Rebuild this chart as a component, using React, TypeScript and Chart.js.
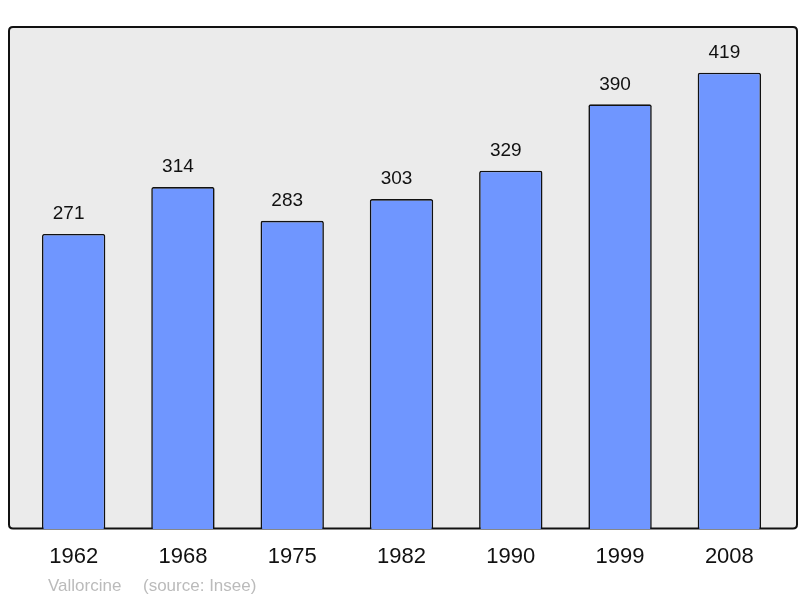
import React, { useEffect, useRef } from "react";
import { Chart, registerables } from "chart.js";

Chart.register(...registerables);

const years = ["1962", "1968", "1975", "1982", "1990", "1999", "2008"];
const population = [271, 314, 283, 303, 329, 390, 419];
const footerPlace = "Vallorcine";
const footerSource = "(source: Insee)";

const FONT = "'Liberation Sans', Arial, sans-serif";

const decorPlugin = {
  id: "decor",
  beforeDatasetsDraw(chart: any) {
    const { ctx, chartArea } = chart;
    const l = chartArea.left - 10;
    const r = chartArea.right + 13;
    const t = chartArea.top;
    const b = chartArea.bottom - 0.5;
    const rad = 4;
    ctx.save();
    ctx.beginPath();
    ctx.moveTo(l + rad, t);
    ctx.lineTo(r - rad, t);
    ctx.quadraticCurveTo(r, t, r, t + rad);
    ctx.lineTo(r, b - rad);
    ctx.quadraticCurveTo(r, b, r - rad, b);
    ctx.lineTo(l + rad, b);
    ctx.quadraticCurveTo(l, b, l, b - rad);
    ctx.lineTo(l, t + rad);
    ctx.quadraticCurveTo(l, t, l + rad, t);
    ctx.closePath();
    ctx.fillStyle = "#ebebeb";
    ctx.fill();
    ctx.lineWidth = 2;
    ctx.strokeStyle = "#111";
    ctx.stroke();
    ctx.restore();
  },
  afterDatasetsDraw(chart: any) {
    const { ctx, chartArea, scales } = chart;
    const xs = scales.x;
    const ys = scales.y;
    ctx.save();
    ctx.fillStyle = "#111";
    ctx.textAlign = "center";
    ctx.textBaseline = "middle";
    ctx.font = `19px ${FONT}`;
    population.forEach((v, i) => {
      const x = xs.getPixelForValue(i);
      const y = ys.getPixelForValue(v);
      ctx.fillText(String(v), x - 5, y - 20);
    });
    ctx.font = `22px ${FONT}`;
    years.forEach((yr, i) => {
      const x = xs.getPixelForValue(i);
      ctx.fillText(yr, x, chartArea.bottom + 28);
    });
    ctx.font = `17px ${FONT}`;
    ctx.fillStyle = "#bbbbbb";
    ctx.textAlign = "left";
    const fx = chartArea.left + 29;
    const fy = chartArea.bottom + 57;
    ctx.fillText(footerPlace, fx, fy);
    ctx.fillText(footerSource, fx + 95, fy);
    ctx.restore();
  },
};

export default function App() {
  const ref = useRef<HTMLCanvasElement>(null);
  useEffect(() => {
    if (!ref.current) return;
    const chart = new Chart(ref.current, {
      type: "bar",
      data: {
        labels: years,
        datasets: [
          {
            data: population,
            backgroundColor: "#6f96ff",
            borderColor: "#111",
            borderWidth: 1.6,
            borderRadius: 2,
            borderSkipped: "bottom",
            barPercentage: 0.58,
            categoryPercentage: 1,
          },
        ],
      },
      options: {
        responsive: false,
        animation: false,
        devicePixelRatio: 1,
        layout: { padding: { left: 19, right: 16, top: 27, bottom: 69 } },
        plugins: {
          legend: { display: false },
          tooltip: { enabled: false },
          title: { display: false },
        },
        scales: {
          x: { display: false },
          y: { display: false, min: 0, max: 461 },
        },
      },
      plugins: [decorPlugin],
    });
    return () => chart.destroy();
  }, []);
  return (
    <div style={{ position: "absolute", left: 0, top: 0, width: 800, height: 598, background: "#fff" }}>
      <canvas ref={ref} width={800} height={598} style={{ display: "block" }} />
    </div>
  );
}
